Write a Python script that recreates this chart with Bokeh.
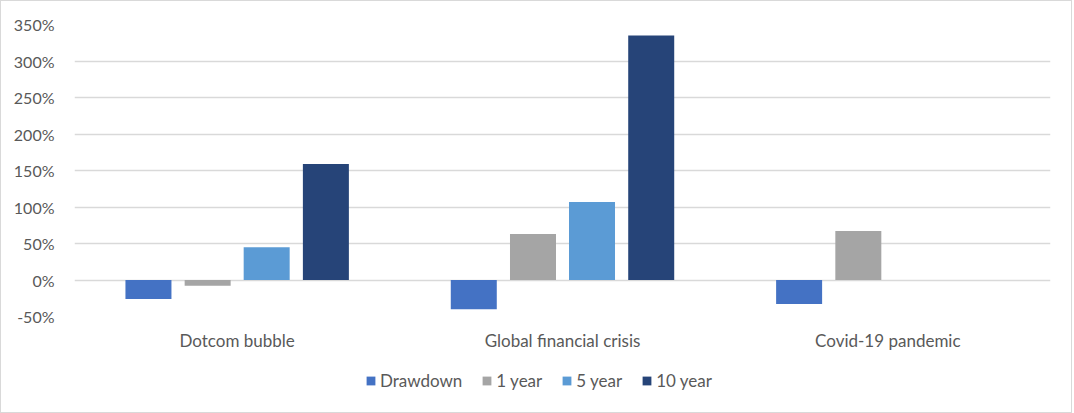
from bokeh.plotting import figure
from bokeh.layouts import column
from bokeh.models import FactorRange, Range1d, NumeralTickFormatter, Legend, LegendItem, ColumnDataSource, FixedTicker
from bokeh.transform import dodge
from bokeh.embed import file_html
from bokeh.resources import INLINE

categories = ["Dotcom bubble", "Global financial crisis", "Covid-19 pandemic"]
series = ["Drawdown", "1 year", "5 year", "10 year"]
drawdown = [-0.26, -0.40, -0.33]
one_year = [-0.08, 0.63, 0.67]
five_year = [0.45, 1.07, float("nan")]
ten_year = [1.59, 3.35, float("nan")]
y_ticks = [-0.5, 0.0, 0.5, 1.0, 1.5, 2.0, 2.5, 3.0, 3.5]

colors = ["#4472C4", "#A5A5A5", "#5B9BD5", "#264478"]
offsets = [-0.2727, -0.0907, 0.0907, 0.2727]
bar_w = 0.1414
FONT = "Lato"
TXT = "#595959"
keys = ["s0", "s1", "s2", "s3"]

src = ColumnDataSource(dict(cat=categories, s0=drawdown, s1=one_year, s2=five_year, s3=ten_year))
xr = FactorRange(*categories)

p = figure(x_range=xr, y_range=Range1d(-0.5, 3.5),
           width=1070, height=360, output_backend="svg", toolbar_location=None,
           min_border_left=73, min_border_right=21, min_border_top=23, min_border_bottom=45)
p.outline_line_color = None
p.background_fill_color = "white"
p.border_fill_color = "white"

for i, key in enumerate(keys):
    p.vbar(x=dodge("cat", offsets[i], range=xr), top=key, bottom=0, width=bar_w,
           source=src, fill_color=colors[i], line_color=None)

p.yaxis.ticker = FixedTicker(ticks=y_ticks)
p.yaxis.formatter = NumeralTickFormatter(format="0%")
for ax in (p.xaxis[0], p.yaxis[0]):
    ax.axis_line_color = None
    ax.major_tick_line_color = None
    ax.minor_tick_line_color = None
    ax.major_label_text_font = FONT
    ax.major_label_text_color = TXT
p.yaxis.major_label_text_font_size = "16px"
p.xaxis.major_label_text_font_size = "17px"
p.yaxis.major_label_standoff = 14
p.xaxis.major_label_standoff = 7

p.xgrid.grid_line_color = None
p.ygrid.grid_line_color = "#D9D9D9"
p.ygrid.grid_line_width = 1.3

# legend strip below the chart (its bars lie outside its visible y-range; only the legend shows)
lg = figure(width=1070, height=51, x_range=xr, y_range=Range1d(10, 11),
            output_backend="svg", toolbar_location=None, min_border=0,
            x_axis_type=None, y_axis_type=None)
lg.outline_line_color = None
lg.xgrid.visible = False
lg.ygrid.visible = False
proxies = [lg.vbar(x=dodge("cat", offsets[i], range=xr), top=keys[i], bottom=0, width=bar_w,
                   source=src, fill_color=colors[i], line_color=None) for i in range(4)]
legend = Legend(items=[LegendItem(label=series[i], renderers=[proxies[i]]) for i in range(4)],
                orientation="horizontal", location=(291, 21),
                glyph_width=11, glyph_height=11, label_standoff=4, spacing=19,
                padding=0, margin=0, border_line_color=None, background_fill_alpha=0,
                label_text_font=FONT, label_text_font_size="17px", label_text_color=TXT)
lg.add_layout(legend, "center")

layout = column(p, lg, spacing=0)
layout.styles = {"border": "1px solid #D9D9D9", "background-color": "white"}

open("out.html", "w").write(file_html(layout, INLINE))
